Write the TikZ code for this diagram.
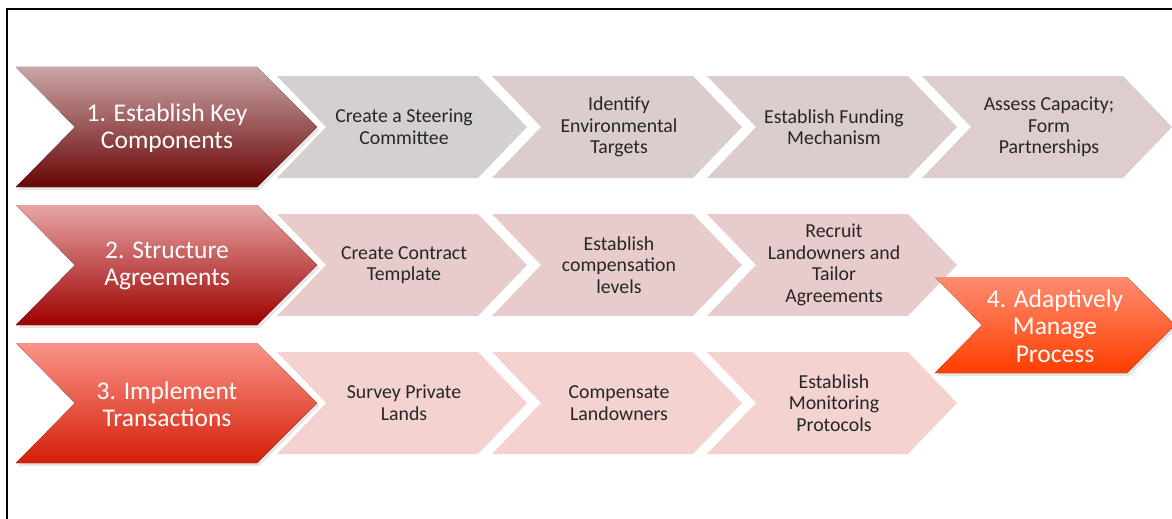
\documentclass[tikz,border=0pt]{standalone}
\usepackage{fontspec}
\setmainfont{Carlito}
\usetikzlibrary{shadows}

\definecolor{stepA}{RGB}{213,208,208}
\definecolor{stepB}{RGB}{220,205,205}
\definecolor{stepC}{RGB}{232,204,204}
\definecolor{stepD}{RGB}{243,210,208}

\begin{document}
\begin{tikzpicture}[x=1pt,y=-1pt,
  phase/.style={drop shadow={shadow xshift=2pt,shadow yshift=-3pt,opacity=.2}},
  phasetext/.style={text=white,align=center,font=\fontsize{25.5}{27.5}\selectfont},
  steptext/.style={text=black!85,align=center,font=\fontsize{19.8}{21.5}\selectfont}]

  \useasboundingbox (0,0) rectangle (1172,519);

  % frame
  \draw[line width=2pt] (7,519) -- (7,9) -- (1172,9);

  % steps of row 1
  \fill[stepA] (277,76) -- ++(201,0) -- ++(49,51) -- ++(-49,51) -- ++(-201,0) -- ++(49,-51) -- cycle;
  \fill[stepB] (492,76) -- ++(201,0) -- ++(49,51) -- ++(-49,51) -- ++(-201,0) -- ++(49,-51) -- cycle;
  \fill[stepB] (707,76) -- ++(201,0) -- ++(49,51) -- ++(-49,51) -- ++(-201,0) -- ++(49,-51) -- cycle;
  \fill[stepB!95!stepC] (922,76) -- ++(201,0) -- ++(49,51) -- ++(-49,51) -- ++(-201,0) -- ++(49,-51) -- cycle;

  % steps of row 2
  \fill[stepC] (277,214) -- ++(201,0) -- ++(49,51) -- ++(-49,51) -- ++(-201,0) -- ++(49,-51) -- cycle;
  \fill[stepC] (492,214) -- ++(201,0) -- ++(49,51) -- ++(-49,51) -- ++(-201,0) -- ++(49,-51) -- cycle;
  \fill[stepC] (707,214) -- ++(201,0) -- ++(49,51) -- ++(-49,51) -- ++(-201,0) -- ++(49,-51) -- cycle;

  % steps of row 3
  \fill[stepD] (277,352) -- ++(201,0) -- ++(49,51) -- ++(-49,51) -- ++(-201,0) -- ++(49,-51) -- cycle;
  \fill[stepD] (492,352) -- ++(201,0) -- ++(49,51) -- ++(-49,51) -- ++(-201,0) -- ++(49,-51) -- cycle;
  \fill[stepD] (707,352) -- ++(201,0) -- ++(49,51) -- ++(-49,51) -- ++(-201,0) -- ++(49,-51) -- cycle;

  % phases
  \fill[phase,top color={rgb,255:red,202;green,166;blue,166},bottom color={rgb,255:red,104;green,4;blue,4}]
    (16,67) -- ++(241,0) -- ++(60,60) -- ++(-60,60) -- ++(-241,0) -- ++(59,-60) -- cycle;
  \fill[phase,top color={rgb,255:red,230;green,165;blue,165},bottom color={rgb,255:red,158;green,0;blue,0}]
    (16,205) -- ++(241,0) -- ++(60,60) -- ++(-60,60) -- ++(-241,0) -- ++(59,-60) -- cycle;
  \fill[phase,top color={rgb,255:red,250;green,148;blue,138},bottom color={rgb,255:red,212;green,30;blue,6}]
    (16,343) -- ++(241,0) -- ++(60,60) -- ++(-60,60) -- ++(-241,0) -- ++(59,-60) -- cycle;
  \fill[phase,top color={rgb,255:red,255;green,140;blue,112},bottom color={rgb,255:red,255;green,62;blue,0}]
    (935,277) -- ++(192,0) -- ++(48,48) -- ++(-48,48) -- ++(-192,0) -- ++(47,-48) -- cycle;

  % labels
  \node[phasetext] (p1) at (167,128) {1. Establish Key\\Components};
  \node[phasetext] (p2) at (167,266) {2. Structure\\Agreements};
  \node[phasetext] (p3) at (167,404) {3. Implement\\Transactions};
  \node[phasetext] (p4) at (1055,326) {4. Adaptively\\Manage\\Process};

  \node[steptext] (s11) at (404,127) {Create a Steering\\Committee};
  \node[steptext] (s12) at (619,127) {Identify\\Environmental\\Targets};
  \node[steptext] (s13) at (834,127) {Establish Funding\\Mechanism};
  \node[steptext] (s14) at (1049,127) {Assess Capacity;\\Form\\Partnerships};

  \node[steptext] (s21) at (404,265) {Create Contract\\Template};
  \node[steptext] (s22) at (619,265) {Establish\\compensation\\levels};
  \node[steptext] (s23) at (834,265) {Recruit\\Landowners and\\Tailor\\Agreements};

  \node[steptext] (s31) at (404,403) {Survey Private\\Lands};
  \node[steptext] (s32) at (619,403) {Compensate\\Landowners};
  \node[steptext] (s33) at (834,403) {Establish\\Monitoring\\Protocols};

\end{tikzpicture}
\end{document}
